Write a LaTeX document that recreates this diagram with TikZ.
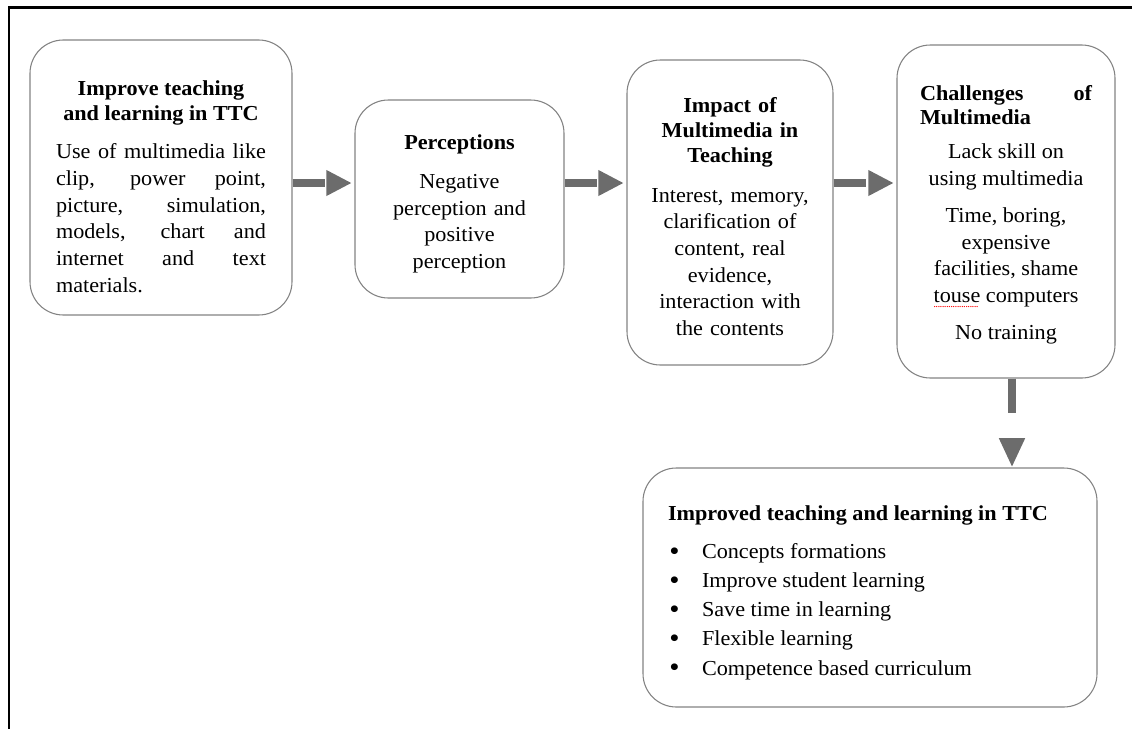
\documentclass[tikz,border=0pt]{standalone}
\usepackage{fontspec}
\setmainfont{Liberation Serif}[FakeStretch=1.04]
\usetikzlibrary{arrows.meta}

\definecolor{boxgray}{RGB}{130,130,130}
\definecolor{arrowgray}{RGB}{108,108,108}

% bold centred heading of a box, then a gap
\newcommand{\headtext}[2][9pt]{{\centering\bfseries\fontsize{16}{19}\selectfont #2\par}\vspace{#1}}
\newcommand{\bulletline}[1]{\hspace*{1pt}\makebox[24.5pt][l]{\raisebox{-1.2pt}{\fontsize{21}{21}\selectfont\textbullet}}#1\par}
% red spelling mark under a word
\newcommand{\spellmark}[1]{\leavevmode\setbox0\hbox{#1}\rlap{\textcolor{red}{\raisebox{-4pt}{\fontsize{8}{8}\selectfont\leaders\hbox to 1.6pt{\hss.\hss}\hskip\wd0}}}#1}

\begin{document}
\begin{tikzpicture}[x=0.75pt, y=-0.75pt,
	box/.style={draw=boxgray, line width=0.8pt, rounded corners=25pt, align=justify, font=\fontsize{16}{20}\selectfont},
	flow/.style={draw=arrowgray, line width=6pt, -{Triangle[length=19pt,width=18pt]}, shorten >=2pt, dash pattern=on 24pt off 5pt},
	flowdown/.style={draw=arrowgray, line width=6pt, -{Triangle[length=22pt,width=18pt]}, dash pattern=on 25.5pt off 30pt}]
	\useasboundingbox (0,0) rectangle (1132,729);
	
	% Frame
	\draw[line width=1.9pt] (1132,7.5) -| (9,729);
	
	% Boxes
	\node[box, minimum width=196.5pt, minimum height=206.25pt, text width=157.5pt] (improve) at (161,177.5) {%
		\headtext[8.5pt]{Improve teaching\\and learning in TTC}
		Use of multimedia like\linebreak clip, power point,\linebreak picture, simulation,\linebreak models, chart and\linebreak internet and text\linebreak materials.\vspace{-13.5pt}};
	
	\node[box, align=center, minimum width=156.75pt, minimum height=148.5pt, text width=130pt] (percep) at (459.5,199) {%
		\headtext{Perceptions}
		Negative\\perception and\\positive\\perception\vspace{-7.5pt}};
	
	\node[box, align=center, minimum width=154.5pt, minimum height=228.75pt, text width=135pt] (impact) at (730,212.5) {%
		{\centering\bfseries\fontsize{16}{18.75}\selectfont Impact of\\Multimedia in\\Teaching\par}\vspace{10pt}
		Interest, memory,\\clarification of\\content, real\\evidence,\\interaction with\\the contents\vspace{-6pt}};
	
	\node[box, minimum width=163.5pt, minimum height=249.75pt, text width=129pt] (challenge) at (1006,211.5) {%
		{\bfseries\fontsize{16}{18}\selectfont\rule{0pt}{16pt}Challenges of\linebreak Multimedia\par}\vspace{6pt}
		{\centering Lack skill on\\using multimedia\par}\vspace{7.75pt}
		{\centering Time, boring,\\expensive\\facilities, shame\\\spellmark{touse} computers\par}\vspace{7.75pt}
		{\centering No training\par}};
	
	\node[box, minimum width=340.5pt, minimum height=179.25pt, text width=303pt] (improved) at (870,587.5) {%
		{\bfseries\rule{0pt}{18.7pt}Improved teaching and learning in TTC\par}\vspace{7pt}
		{\fontsize{16}{21.8}\selectfont
		\bulletline{Concepts formations}
		\bulletline{Improve student learning}
		\bulletline{Save time in learning}
		\bulletline{Flexible learning}
		\bulletline{Competence based curriculum}}};
	
	% Arrows
	\coordinate (flowrow) at (0,183);
	\coordinate (downcol) at (1012,0);
	\draw[flow] (improve.east |- flowrow) -- (percep.west |- flowrow);
	\draw[flow] (percep.east |- flowrow) -- (impact.west |- flowrow);
	\draw[flow] (impact.east |- flowrow) -- (challenge.west |- flowrow);
	\draw[flowdown] (challenge.south -| downcol) -- (improved.north -| downcol);
\end{tikzpicture}
\end{document}
